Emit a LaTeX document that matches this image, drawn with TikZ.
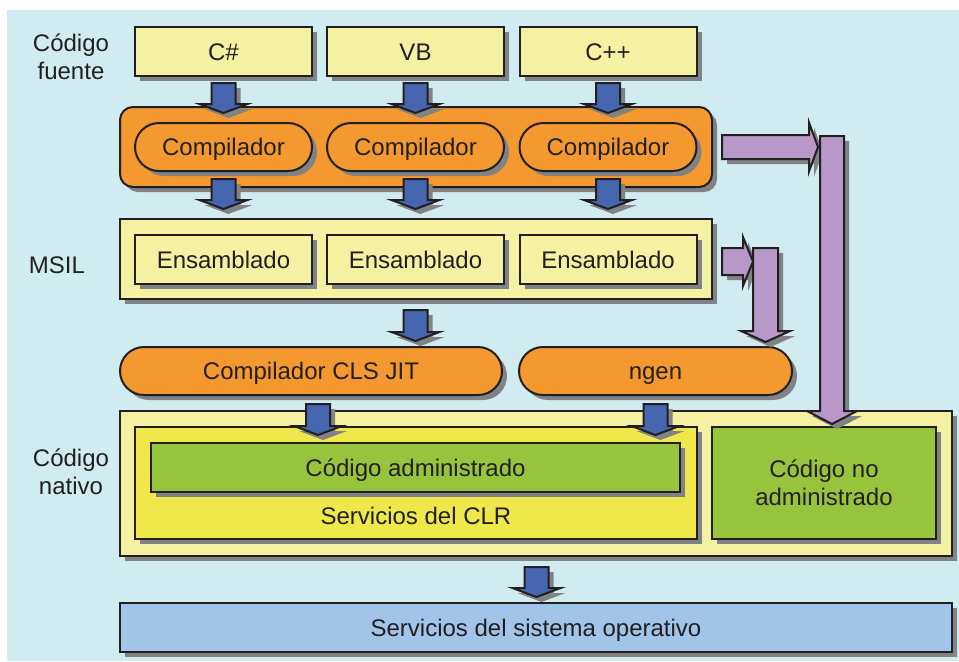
\documentclass[tikz,border=0pt]{standalone}
\usepackage{fontspec}
\setmainfont{Liberation Sans}
\usetikzlibrary{calc,shapes.misc,shadows}

\definecolor{fondo}{HTML}{D0ECF0}
\definecolor{amarillo}{HTML}{F5F1A2}
\definecolor{amarilloclr}{HTML}{EEE84A}
\definecolor{naranja}{HTML}{F4992F}
\definecolor{verde}{HTML}{97C33D}
\definecolor{azul}{HTML}{4766B0}
\definecolor{morado}{HTML}{B898C8}
\definecolor{celeste}{HTML}{A0C5E8}
\definecolor{sombra}{HTML}{808285}
\definecolor{trazo}{HTML}{231F20}

\tikzset{
  sombreado/.style={drop shadow={shadow xshift=2.5pt,shadow yshift=-2.5pt,fill=sombra,opacity=1}},
  caja/.style={draw=trazo,line width=1pt,sombreado,inner sep=0pt,align=center,text=trazo},
  unalinea/.style={text height=8.6pt,text depth=0pt},
  lenguaje/.style={caja,unalinea,fill=amarillo,minimum width=88.5pt,minimum height=24.5pt},
  ensamblado/.style={lenguaje},
  compilador/.style={caja,unalinea,rounded rectangle,fill=naranja,minimum width=88.5pt,minimum height=24pt},
  banda/.style={caja,minimum width=296pt,minimum height=40pt},
  etiqueta/.style={align=center,text=trazo,inner sep=0pt},
  flechaazul/.style={draw=trazo,line width=1pt,fill=azul,sombreado,line join=miter},
  flechamorada/.style={flechaazul,fill=morado}
}

% block arrows: style, start, tip, half shaft, half head, head length
\newcommand{\blockdown}[6]{%
  \draw[#1] let \p1=(#2), \p2=(#3) in
    (\x1-#4,\y1) -- (\x1+#4,\y1) -- (\x1+#4,\y2+#6) -- (\x1+#5,\y2+#6) -- (\x1,\y2)
    -- (\x1-#5,\y2+#6) -- (\x1-#4,\y2+#6) -- cycle;}
\newcommand{\blockright}[6]{%
  \draw[#1] let \p1=(#2), \p2=(#3) in
    (\x1,\y1+#4) -- (\x2-#6,\y1+#4) -- (\x2-#6,\y1+#5) -- (\x2,\y1) -- (\x2-#6,\y1-#5)
    -- (\x2-#6,\y1-#4) -- (\x1,\y1-#4) -- cycle;}

\begin{document}
\begin{tikzpicture}[x=0.5pt,y=-0.5pt,font=\fontsize{12}{14}\selectfont]
	\useasboundingbox (0,0) rectangle (959,661);
	\fill[fondo] (7,10) rectangle (959,661);
	% etiquetas
	\node[etiqueta] (lfuente) at (71,56.5) {Código\\fuente};
	\node[etiqueta] (lmsil) at (57,265) {MSIL};
	\node[etiqueta] (lnativo) at (71,472) {Código\\nativo};
	% bandas
	\node[banda,rounded corners=6.5pt,fill=naranja] (bcomp) at (416,147) {};
	\node[banda,fill=amarillo] (bmsil) at (416,259) {};
	\node[caja,fill=amarillo,minimum width=416pt,minimum height=72.5pt] (bnativo) at (536,483.5) {};
	% codigo fuente
	\node[lenguaje] (cs) at (223.5,51.5) {C\#};
	\node[lenguaje] (vb) at (415.5,51.5) {VB};
	\node[lenguaje] (cpp) at (608,51.5) {C++};
	\node[compilador] (comp1) at (223.5,147) {Compilador};
	\node[compilador] (comp2) at (415.5,147) {Compilador};
	\node[compilador] (comp3) at (608,147) {Compilador};
	\node[ensamblado] (ens1) at (223.5,259.5) {Ensamblado};
	\node[ensamblado] (ens2) at (415.5,259.5) {Ensamblado};
	\node[ensamblado] (ens3) at (608,259.5) {Ensamblado};
	\node[compilador,minimum width=191pt] (jit) at (311,371) {Compilador CLS JIT};
	\node[compilador,minimum width=136.5pt] (ngen) at (655.5,371) {ngen};
	% codigo nativo
	\node[caja,fill=amarilloclr,minimum width=281pt,minimum height=56pt] (clr) at (416,483) {};
	\node[caja,unalinea,fill=verde,minimum width=264.5pt,minimum height=24.5pt] (adm) at (415.5,467.5) {Código administrado};
	\node[etiqueta] (serclr) at (416,516) {Servicios del CLR};
	\node[caja,fill=verde,minimum width=112pt,minimum height=56pt] (noadm) at (824,483) {Código no\\administrado};
	\node[caja,unalinea,fill=celeste,minimum width=416pt,minimum height=24.5pt] (os) at (536,627.5) {Servicios del sistema operativo};
	% flechas azules
	\blockdown{flechaazul}{$(cs.south)+(0,6)$}{$(cs |- bcomp.north)+(0,7)$}{6pt}{12pt}{4.5pt}
	\blockdown{flechaazul}{$(vb.south)+(0,6)$}{$(vb |- bcomp.north)+(0,7)$}{6pt}{12pt}{4.5pt}
	\blockdown{flechaazul}{$(cpp.south)+(0,6)$}{$(cpp |- bcomp.north)+(0,7)$}{6pt}{12pt}{4.5pt}
	\blockdown{flechaazul}{$(comp1.south)+(0,7)$}{$(comp1 |- bmsil.north)+(0,-9)$}{6pt}{12pt}{4.5pt}
	\blockdown{flechaazul}{$(comp2.south)+(0,7)$}{$(comp2 |- bmsil.north)+(0,-9)$}{6pt}{12pt}{4.5pt}
	\blockdown{flechaazul}{$(comp3.south)+(0,7)$}{$(comp3 |- bmsil.north)+(0,-9)$}{6pt}{12pt}{4.5pt}
	\blockdown{flechaazul}{$(ens2 |- bmsil.south)+(0,10)$}{$(ens2 |- jit.north)+(0,-5)$}{6pt}{12pt}{4.5pt}
	\blockdown{flechaazul}{$(jit.south)+(7,8)$}{$(jit.south |- clr.north)+(7,9)$}{6pt}{12pt}{4.5pt}
	\blockdown{flechaazul}{$(ngen.south)+(0,8)$}{$(ngen.south |- clr.north)+(0,9)$}{6pt}{12pt}{4.5pt}
	\blockdown{flechaazul}{$(bnativo.south)+(0.5,10)$}{$(bnativo.south |- os.north)+(0.5,-5)$}{6pt}{12pt}{4.5pt}
	% flechas moradas
	\coordinate (bajada1) at (832,136);
	\coordinate (bajada2) at (765.5,248);
	\blockright{flechamorada}{$(bcomp.east)+(9,0)$}{$(bajada1 |- bcomp.east)+(-14,0)$}{6pt}{12.25pt}{4.5pt}
	\blockdown{flechamorada}{bajada1}{$(bajada1 |- noadm.north)+(0,-2)$}{6pt}{12.5pt}{6.5pt}
	\blockright{flechamorada}{$(bmsil.east)+(9,2.5)$}{$(bajada2 |- bmsil.east)+(-12.5,2.5)$}{6.75pt}{12.25pt}{5pt}
	\blockdown{flechamorada}{bajada2}{$(bajada2 |- ngen.north)+(0,-4)$}{6.25pt}{12.25pt}{5.5pt}
\end{tikzpicture}
\end{document}
